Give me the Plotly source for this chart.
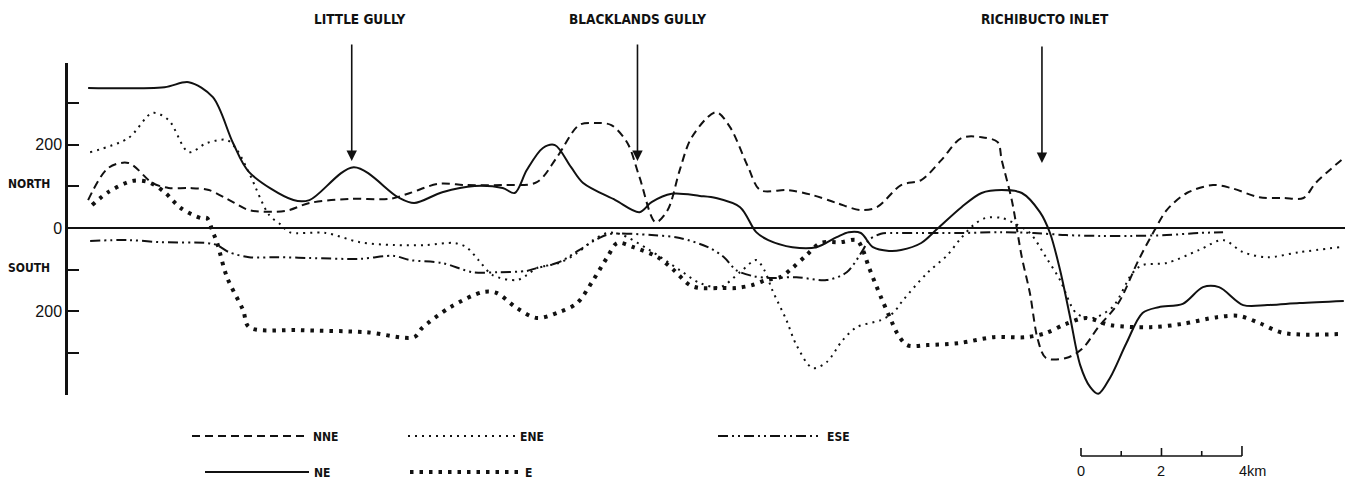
import plotly.graph_objects as go

# ---------------- data: distance along shore (km) and value (north +, south -) ----------------
NE_x = [0.5, 2.4, 3.0, 3.6, 4.1, 4.5, 5.6, 6.0, 7.1, 8.2, 8.6, 9.3, 10.1, 10.8, 11.1, 11.4,
        11.8, 12.1, 12.5, 12.8, 13.6, 14.2, 14.5, 15.0, 15.7, 16.1, 16.7, 17.1, 17.4, 18.0,
        18.6, 19.1, 19.4, 19.7, 20.0, 20.4, 20.7, 21.2, 21.6, 22.2, 22.7, 23.2, 23.7, 24.15,
        24.4, 24.65, 24.9, 25.15, 25.4, 25.6, 25.9, 26.3, 26.7, 27.1, 27.7, 28.2, 28.6, 29.2,
        29.8, 30.6, 31.7]
NE_y = [336, 338, 350, 314, 204, 134, 67, 67, 146, 74, 60, 86, 101, 96, 84, 139,
        192, 199, 146, 108, 67, 38, 62, 82, 77, 72, 50, -10, -29, -46,
        -46, -22, -10, -12, -46, -55, -53, -36, -2, 50, 84, 91, 84, 38,
        -12, -101, -214, -329, -382, -398, -358, -276, -204, -190, -182, -142, -142, -185,
        -185, -180, -175]

NNE_x = [0.5, 1.0, 1.5, 2.1, 2.5, 3.0, 3.5, 4.1, 4.5, 5.4, 6.0, 7.0, 8.0, 8.5, 9.2, 9.9,
         10.8, 11.65, 12.15, 12.7, 13.1, 13.5, 13.9, 14.2, 14.6, 14.9, 15.2, 15.5, 16.1,
         16.45, 16.9, 17.2, 17.9, 18.5, 19.1, 19.7, 20.1, 20.7, 21.2, 21.7, 22.2, 22.7, 23.1,
         23.2, 23.45, 23.7, 23.9, 24.1, 24.3, 24.8, 25.2, 25.6, 26.1, 26.6, 27.0, 27.3, 27.8,
         28.45, 28.9, 29.6, 30.2, 30.7, 31.0, 31.7]
NNE_y = [67, 144, 156, 108, 96, 96, 91, 62, 43, 41, 60, 70, 70, 84, 106, 103,
         103, 110, 170, 247, 252, 247, 204, 122, 14, 43, 139, 218, 278,
         242, 146, 91, 91, 79, 60, 43, 50, 103, 115, 163, 216, 218, 206,
         163, 67, -70, -156, -269, -312, -312, -290, -238, -180, -77, -5, 43, 84,
         103, 96, 74, 72, 72, 108, 168]

ENE_x = [0.55, 1.5, 2.1, 2.5, 3.0, 3.45, 3.95, 4.2, 4.5, 5.0, 5.3, 5.5, 6.4, 7.25, 8.1, 8.9,
         9.6, 9.9, 10.2, 10.55, 11.15, 11.4, 11.65, 12.2, 12.65, 13.05, 13.4, 13.7, 14.45,
         15.2, 15.7, 16.2, 16.7, 17.1, 17.3, 17.5, 17.85, 18.1, 18.5, 18.85, 19.25, 19.6,
         20.2, 20.5, 20.75, 21.35, 21.85, 22.15, 22.5, 22.8, 23.2, 23.5, 23.9, 24.3, 24.65,
         25.05, 25.45, 25.95, 26.45, 26.7, 27.3, 28.1, 28.7, 29.2, 29.8, 30.6, 31.6]
ENE_y = [182, 216, 276, 259, 182, 204, 211, 187, 132, 31, 7, -10, -12, -34, -41, -41,
         -36, -46, -77, -113, -125, -113, -96, -84, -60, -29, -12, -14, -53,
         -101, -132, -142, -106, -77, -101, -149, -221, -281, -336, -322, -269, -238,
         -221, -204, -173, -108, -65, -29, 7, 24, 24, 12, -12, -70, -125,
         -204, -216, -190, -108, -89, -84, -53, -29, -58, -70, -58, -46]

ESE_x = [0.55, 1.5, 2.3, 3.45, 3.7, 4.0, 4.5, 5.2, 6.0, 7.25, 8.1, 8.5, 9.3, 10.05, 10.7,
         11.4, 11.65, 12.2, 12.7, 13.2, 13.5, 14.5, 15.2, 15.9, 16.3, 16.6, 17.0, 17.45,
         18.1, 18.85, 19.35, 19.75, 19.9, 20.2, 20.7, 22.2, 23.15, 24.0, 24.8, 25.65, 26.45,
         27.3, 28.1, 28.7]
ESE_y = [-31, -29, -34, -36, -41, -58, -70, -70, -72, -74, -67, -77, -84, -106, -106,
         -103, -96, -82, -53, -24, -14, -17, -24, -46, -70, -101, -115, -120,
         -118, -125, -106, -53, -29, -14, -12, -12, -10, -12, -17, -19, -19,
         -17, -12, -10]

E_x = [0.6, 1.0, 1.6, 2.0, 2.4, 2.8, 3.3, 3.45, 3.6, 3.7, 3.95, 4.35, 4.5, 5.75, 7.4, 8.6,
       8.8, 9.5, 10.3, 10.65, 11.15, 11.65, 12.2, 12.65, 13.05, 13.4, 13.65, 14.05, 14.65,
       15.05, 15.45, 15.7, 16.2, 16.6, 17.0, 17.35, 17.7, 18.0, 18.35, 18.7, 19.2, 19.6,
       19.75, 19.9, 20.2, 20.45, 20.6, 20.85, 21.35, 22.15, 23.0, 23.8, 24.3, 24.8, 25.3,
       25.9, 26.9, 27.7, 28.55, 29.1, 29.6, 30.2, 31.7]
E_y = [55, 86, 113, 110, 86, 48, 24, 24, -10, -34, -118, -197, -238, -245, -250, -262,
       -240, -190, -154, -156, -192, -216, -202, -180, -125, -70, -36, -46, -70,
       -101, -137, -144, -144, -144, -137, -125, -118, -96, -65, -36, -34, -29,
       -53, -94, -166, -221, -252, -281, -281, -276, -262, -262, -252, -230, -216,
       -233, -238, -230, -214, -211, -228, -252, -254]

LANDMARK_NAMES = ["LITTLE GULLY", "BLACKLANDS GULLY", "RICHIBUCTO INLET"]
LANDMARK_KM = [7.05, 14.15, 24.2]
LANDMARK_LABEL_KM = [7.25, 14.14, 24.27]
LANDMARK_TIP = [161, 161, 156]

Y_TICKS = [-300, -200, -100, 0, 100, 200, 300]
Y_TICK_TEXT = ["", "200", "", "0", "", "200", ""]

SCALE_KM = [0, 1, 2, 3, 4]
SCALE_LABELS = ["0", "", "2", "", "4km"]

# ---------------- styling / layout constants ----------------
PAGE = 8                      # browser body margin around the plot div
W, H = 1356 - PAGE, 485 - PAGE
ML, MT = 60, 55
PW, PH = 1277, 332
MR, MB = W - ML - PW, H - MT - PH
X_RANGE = [0, 31.73]
Y_RANGE = [-400.8, 396]
BLACK = "#111111"
LABEL_FONT = dict(family="DejaVu Sans Condensed, DejaVu Sans", size=12, color=BLACK, weight="bold")
TITLE_FONT = dict(family="DejaVu Sans Condensed, DejaVu Sans", size=13.5, color=BLACK, weight="bold")


def px_x(p):
    """screen x pixel -> paper coordinate"""
    return (p - PAGE - ML) / PW


def px_y(p):
    """screen y pixel -> paper coordinate"""
    return (MT + PH - (p - PAGE)) / PH


series = [
    # name, x, y, dash, width, legend id, legend left px, legend row py, itemwidth
    ("NNE", NNE_x, NNE_y, "8px,5px", 2.0, "legend", 187, 436, 116),
    ("ENE", ENE_x, ENE_y, "2px,5px", 2.0, "legend2", 403, 436, 107),
    ("ESE", ESE_x, ESE_y, "10px,4px,2px,4px,2px,4px", 2.0, "legend3", 713, 436, 104),
    ("NE", NE_x, NE_y, "solid", 2.0, "legend4", 200, 472, 104),
    ("E", E_x, E_y, "3.5px,6px", 4.0, "legend5", 405, 472, 110),
]

fig = go.Figure()
legends = {}
for name, xs, ys, dash, w, lg, lx, ly, iw in series:
    fig.add_trace(go.Scatter(
        x=xs, y=ys, name=name, mode="lines",
        line=dict(color=BLACK, width=w, dash=dash, shape="spline", smoothing=0.9),
        legend=lg, showlegend=True, hoverinfo="skip",
    ))
    legends[lg] = dict(
        x=px_x(lx), y=px_y(ly), xanchor="left", yanchor="middle",
        xref="paper", yref="paper",
        itemwidth=iw, font=LABEL_FONT, bgcolor="rgba(0,0,0,0)", borderwidth=0,
    )

annotations = []
for nm, xk, lk, tip in zip(LANDMARK_NAMES, LANDMARK_KM, LANDMARK_LABEL_KM, LANDMARK_TIP):
    annotations.append(dict(
        x=xk, y=tip, xref="x", yref="y", text="", showarrow=True,
        ax=0, ay=-118, axref="pixel", ayref="pixel",
        arrowhead=2, arrowsize=1.3, arrowwidth=1.6, arrowcolor=BLACK,
    ))
    annotations.append(dict(
        x=lk, y=px_y(19), xref="x", yref="paper", text=nm, showarrow=False,
        xanchor="center", yanchor="middle", font=TITLE_FONT,
    ))

annotations.append(dict(x=px_x(29), y=106, xref="paper", yref="y", text="NORTH",
                        showarrow=False, xanchor="center", yanchor="middle", font=LABEL_FONT))
annotations.append(dict(x=px_x(29), y=-96, xref="paper", yref="y", text="SOUTH",
                        showarrow=False, xanchor="center", yanchor="middle", font=LABEL_FONT))

# scale bar (km) drawn in x-data units
SCALE_X0 = 25.17
bar_y = px_y(456)
tick_len_px = [8, 5, 8, 5, 10]
shapes = [dict(type="line", xref="x", yref="paper",
               x0=SCALE_X0 + SCALE_KM[0], x1=SCALE_X0 + SCALE_KM[-1],
               y0=bar_y, y1=bar_y, line=dict(color=BLACK, width=1.6))]
for k, tl, lab in zip(SCALE_KM, tick_len_px, SCALE_LABELS):
    shapes.append(dict(type="line", xref="x", yref="paper",
                       x0=SCALE_X0 + k, x1=SCALE_X0 + k, y0=bar_y, y1=bar_y + tl / PH,
                       line=dict(color=BLACK, width=1.6)))
    if lab:
        annotations.append(dict(
            x=SCALE_X0 + k, y=px_y(471), xref="x", yref="paper", text=lab, showarrow=False,
            xanchor="left" if lab.endswith("km") else "center",
            xshift=-5 if lab.endswith("km") else 0, yanchor="middle",
            font=dict(family="Liberation Sans, Arial", size=14.5, color=BLACK),
        ))

fig.update_layout(
    width=W, height=H,
    margin=dict(l=ML, r=MR, t=MT, b=MB, autoexpand=False),
    plot_bgcolor="white", paper_bgcolor="white",
    showlegend=True,
    xaxis=dict(range=X_RANGE, visible=False, fixedrange=True),
    yaxis=dict(
        range=Y_RANGE, tickvals=Y_TICKS, ticktext=Y_TICK_TEXT,
        ticks="inside", ticklen=11, tickwidth=2, tickcolor=BLACK,
        showline=True, linewidth=2.5, linecolor=BLACK,
        zeroline=True, zerolinecolor=BLACK, zerolinewidth=1.5,
        showgrid=False, automargin=False,
        tickfont=dict(family="Liberation Sans, Arial", size=16, color=BLACK),
    ),
    annotations=annotations,
    shapes=shapes,
    **legends,
)

fig.write_html("out.html")
